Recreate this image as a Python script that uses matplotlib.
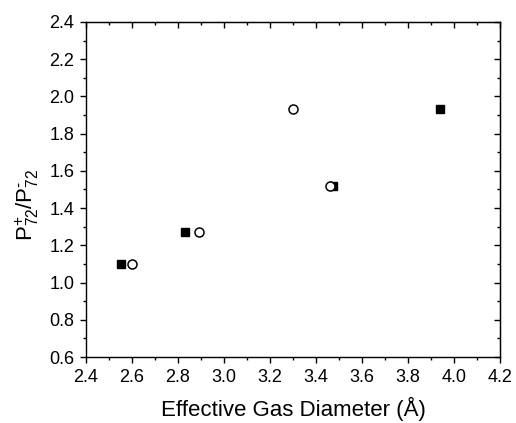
import matplotlib
matplotlib.use("Agg")
import matplotlib.pyplot as plt
from matplotlib.ticker import MultipleLocator

plt.rcParams['font.family'] = ['Liberation Sans', 'DejaVu Sans']
plt.rcParams['mathtext.fontset'] = 'custom'
plt.rcParams['mathtext.rm'] = 'Liberation Sans'
plt.rcParams['mathtext.it'] = 'Liberation Sans:italic'

# Ratio P+72/P-72 versus effective gas diameter, two data sets
diam_square = [2.55, 2.83, 3.475, 3.94]
ratio_square = [1.10, 1.27, 1.52, 1.935]
diam_circle = [2.60, 2.89, 3.46, 3.30]
ratio_circle = [1.10, 1.27, 1.52, 1.935]

x_ticks = [2.4, 2.6, 2.8, 3.0, 3.2, 3.4, 3.6, 3.8, 4.0, 4.2]
y_ticks = [0.6, 0.8, 1.0, 1.2, 1.4, 1.6, 1.8, 2.0, 2.2, 2.4]

fig = plt.figure(figsize=(5.16, 4.23), dpi=100)
ax = fig.add_axes([86/516, 66/423, 414/516, 335/423])

ax.plot(diam_square, ratio_square, linestyle='none', marker='s',
        markersize=6, markerfacecolor='black', markeredgecolor='black')
ax.plot(diam_circle, ratio_circle, linestyle='none', marker='o',
        markersize=6.5, markerfacecolor='white', markeredgecolor='black',
        markeredgewidth=1.1)

ax.set_xlim(2.4, 4.2)
ax.set_ylim(0.6, 2.4)
ax.set_xticks(x_ticks)
ax.set_yticks(y_ticks)
ax.set_xticklabels([f"{v:.1f}" for v in x_ticks])
ax.set_yticklabels([f"{v:.1f}" for v in y_ticks])
ax.xaxis.set_minor_locator(MultipleLocator(0.1))
ax.yaxis.set_minor_locator(MultipleLocator(0.1))

for side in ax.spines.values():
    side.set_linewidth(1.0)

ax.tick_params(which='both', direction='out', top=False, right=False,
               labelsize=13, width=1.0, colors='black')
ax.tick_params(which='major', length=4.5, pad=4)
ax.tick_params(which='minor', length=2.5)

# Mirrored inward ticks on the top and right edges
sec_x = ax.secondary_xaxis('top')
sec_x.set_xticks(x_ticks)
sec_x.xaxis.set_minor_locator(MultipleLocator(0.1))
sec_x.tick_params(which='both', direction='in', labeltop=False, width=1.0)
sec_x.tick_params(which='major', length=4.5)
sec_x.tick_params(which='minor', length=2.5)
sec_y = ax.secondary_yaxis('right')
sec_y.set_yticks(y_ticks)
sec_y.yaxis.set_minor_locator(MultipleLocator(0.1))
sec_y.tick_params(which='both', direction='in', labelright=False, width=1.0)
sec_y.tick_params(which='major', length=4.5)
sec_y.tick_params(which='minor', length=2.5)

ax.set_xlabel('Effective Gas Diameter (Å)', fontsize=16)
ax.xaxis.set_label_coords(0.5, -0.12)
ax.set_ylabel(r'$\mathrm{P}^{+}_{\mathit{72}}\mathrm{/P}^{\mathrm{‐}}_{\mathit{72}}$',
              fontsize=16)
ax.yaxis.set_label_coords(-0.108, 0.454)

fig.savefig('out.png', dpi=100)
